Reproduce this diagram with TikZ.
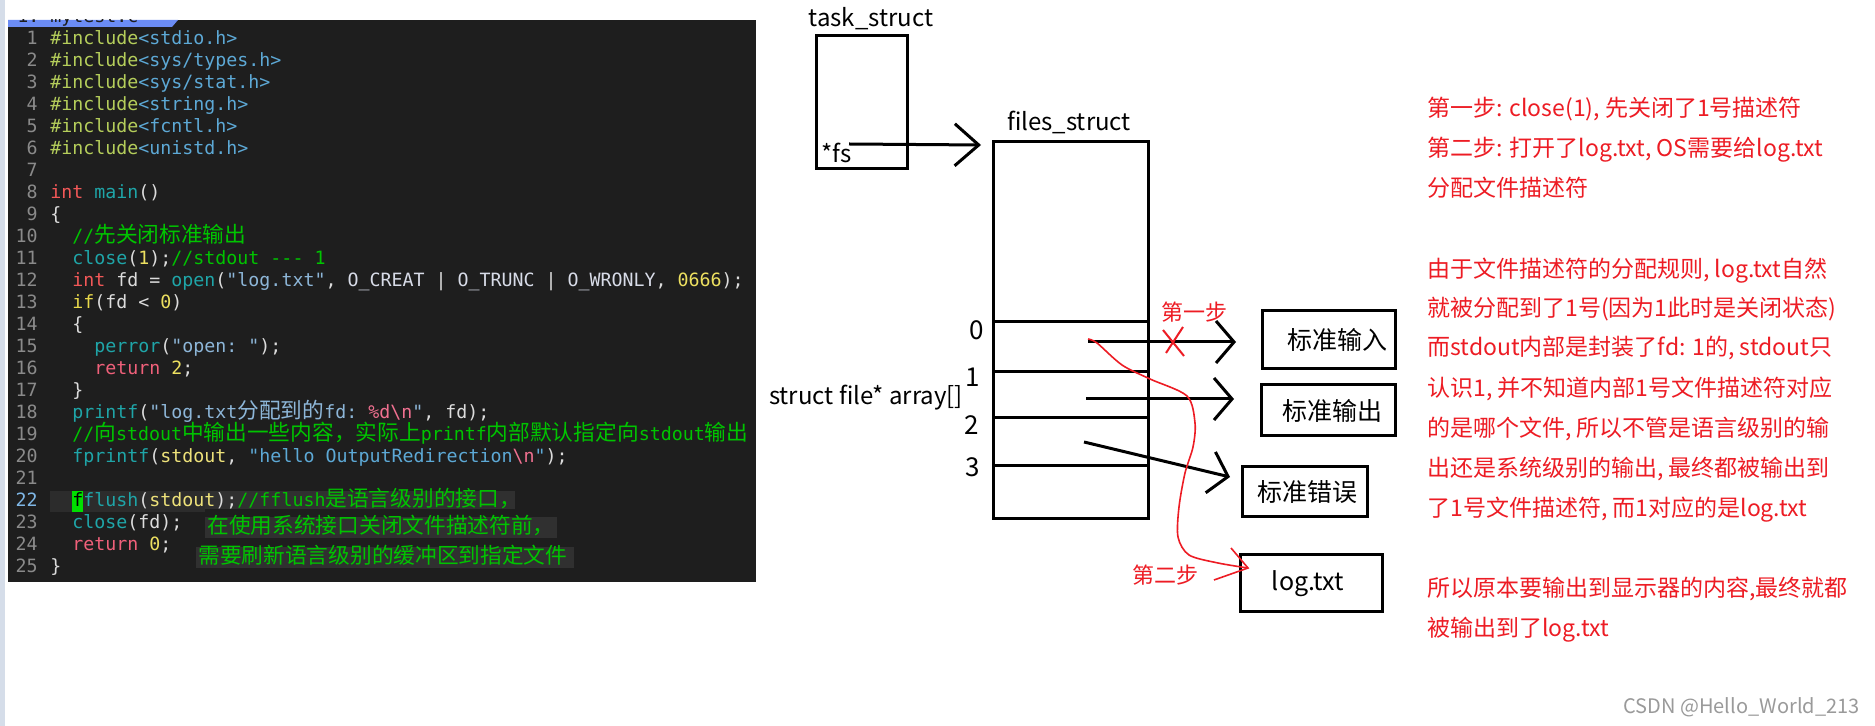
\documentclass[tikz,border=0pt]{standalone}
\usepackage{fontspec}
\setmonofont{DejaVu Sans Mono}
\newfontfamily\cjk{Noto Sans CJK SC}
\usetikzlibrary{arrows.meta}
\definecolor{panel}{HTML}{1E1E1E}
\definecolor{stripc}{HTML}{D5DDE9}
\definecolor{tabc}{HTML}{6B8CF5}
\definecolor{lnum}{HTML}{8A8A8A}
\definecolor{lnumcur}{HTML}{7FB7E6}
\definecolor{cinc}{HTML}{B5CE5B}
\definecolor{chdr}{HTML}{5DA9D6}
\definecolor{ckw}{HTML}{F25858}
\definecolor{cret}{HTML}{F0607A}
\definecolor{cfun}{HTML}{1FA5A8}
\definecolor{cnum}{HTML}{EDE060}
\definecolor{cif}{HTML}{E8D84A}
\definecolor{ccom}{HTML}{00C400}
\definecolor{cstr}{HTML}{8DB6D8}
\definecolor{cconst}{HTML}{D8DCE8}
\definecolor{cesc}{HTML}{F07090}
\definecolor{cw}{HTML}{DCDCDC}
\definecolor{cstd}{HTML}{EEE27A}
\definecolor{curbg}{HTML}{2C2C2C}
\definecolor{combg}{HTML}{303030}
\definecolor{cursor}{HTML}{00E000}
\definecolor{redc}{RGB}{237,28,36}
\definecolor{wm}{HTML}{9A9A9A}
\newcommand\cjkc[1]{{\fontsize{10.85}{11}\cjk #1}}
\tikzset{
  x=0.5pt, y=-0.5pt,
  code/.style={anchor=base west, inner sep=0pt, font=\fontsize{9.14}{11}\ttfamily, text=cw},
  lno/.style={anchor=base east, inner sep=0pt, font=\fontsize{9.14}{11}\ttfamily, text=lnum},
  lbl/.style={inner sep=0pt, font=\fontsize{12}{14}\cjk},
  numlbl/.style={inner sep=0pt, font=\fontsize{13}{15}\cjk},
  boxlbl/.style={draw, line width=1.5pt, inner sep=0pt, font=\fontsize{12.5}{14}\cjk},
  rtxt/.style={anchor=base west, inner sep=0pt, font=\fontsize{11.5}{14}\cjk, text=redc},
  blk/.style={line width=1.5pt, black},
  barb/.style={-{Straight Barb[length=9pt,width=21pt,line width=1.5pt]}},
  fsbarb/.style={-{Straight Barb[length=12pt,width=21pt,line width=1.5pt]}},
}
\begin{document}
\begin{tikzpicture}
\useasboundingbox (0,0) rectangle (1875,726);
\fill[white] (0,0) rectangle (1875,726);
% editor panel
\fill[stripc] (0,0) rectangle (5,726);
\fill[panel] (8,20) rectangle (756,582);
\fill[tabc] (8,20) -- (178,20) -- (172,27) -- (8,27) -- cycle;
\begin{scope}
  \clip (8,20) rectangle (178,27);
  \node[code, text=panel] (tab) at (17,23) {1: mytest.c};
\end{scope}
% current line highlight
\fill[curbg] (50,491) rectangle (205,512);
\fill[combg] (205,491) rectangle (515,509);
\fill[cursor] (72,491) rectangle (83,512);
% comment boxes
\fill[combg] (205,517) rectangle (557,538);
\fill[combg] (196,547) rectangle (574,568);
% line numbers
\foreach \n in {1,...,21,23,24,25} {
  \node[lno] (ln\n) at (38,{45+22*(\n-1)}) {\n};
}
\node[lno, text=lnumcur] (ln22) at (38,507) {22};
% code
\node[code] (c1) at (50,45) {\textcolor{cinc}{\#include}\textcolor{chdr}{<stdio.h>}};
\node[code] (c2) at (50,67) {\textcolor{cinc}{\#include}\textcolor{chdr}{<sys/types.h>}};
\node[code] (c3) at (50,89) {\textcolor{cinc}{\#include}\textcolor{chdr}{<sys/stat.h>}};
\node[code] (c4) at (50,111) {\textcolor{cinc}{\#include}\textcolor{chdr}{<string.h>}};
\node[code] (c5) at (50,133) {\textcolor{cinc}{\#include}\textcolor{chdr}{<fcntl.h>}};
\node[code] (c6) at (50,155) {\textcolor{cinc}{\#include}\textcolor{chdr}{<unistd.h>}};
\node[code] (c8) at (50,199) {\textcolor{ckw}{int} \textcolor{cfun}{main}()};
\node[code] (c9) at (50,221) {\{};
\node[code] (c10) at (72,243) {\textcolor{ccom}{//\cjkc{先关闭标准输出}}};
\node[code] (c11) at (72,265) {\textcolor{cfun}{close}(\textcolor{cnum}{1});\textcolor{ccom}{//stdout --- 1}};
\node[code] (c12) at (72,287) {\textcolor{ckw}{int} fd = \textcolor{cfun}{open}(\textcolor{cstr}{"log.txt"}, \textcolor{cconst}{O\_CREAT} | \textcolor{cconst}{O\_TRUNC} | \textcolor{cconst}{O\_WRONLY}, \textcolor{cnum}{0666});};
\node[code] (c13) at (72,309) {\textcolor{cif}{if}(fd < \textcolor{cnum}{0})};
\node[code] (c14) at (72,331) {\{};
\node[code] (c15) at (94,353) {\textcolor{cfun}{perror}(\textcolor{cstr}{"open: "});};
\node[code] (c16) at (94,375) {\textcolor{cret}{return} \textcolor{cnum}{2};};
\node[code] (c17) at (72,397) {\}};
\node[code] (c18) at (72,419) {\textcolor{cfun}{printf}(\textcolor{cstr}{"log.txt\cjkc{分配到的}fd: }\textcolor{cesc}{\%d\textbackslash n}\textcolor{cstr}{"}, fd);};
\node[code] (c19) at (72,441) {\textcolor{ccom}{//\cjkc{向}stdout\cjkc{中输出一些内容，实际上}printf\cjkc{内部默认指定向}stdout\cjkc{输出}}};
\node[code] (c20) at (72,463) {\textcolor{cfun}{fprintf}(\textcolor{cstd}{stdout}, \textcolor{chdr}{"hello OutputRedirection}\textcolor{cesc}{\textbackslash n}\textcolor{chdr}{"});};
\node[code] (c22) at (72,507) {\textcolor{black}{f}\textcolor{cfun}{flush}(\textcolor{cstd}{stdout});\textcolor{ccom}{//fflush\cjkc{是语言级别的接口，}}};
\node[code] (c23) at (72,529) {\textcolor{cfun}{close}(fd);};
\node[code] (c24) at (72,551) {\textcolor{cret}{return} \textcolor{cnum}{0};};
\node[code] (c25) at (50,573) {\}};
\node[code, text=ccom] (k23) at (207,534) {\cjkc{在使用系统接口关闭文件描述符前，}};
\node[code, text=ccom] (k24) at (198,564) {\cjkc{需要刷新语言级别的缓冲区到指定文件}};
% diagram
\node[lbl] (tasklbl) at (871,19) {task\_struct};
\draw[blk] (816,36) rectangle (907,169);
\node[lbl, anchor=west] (fs) at (821,153) {*fs};
\node[lbl] (fileslbl) at (1069,122) {files\_struct};
\draw[blk] (993,142) rectangle (1148,519);
\foreach \yy in {322,372,418,466} { \draw[blk] (993,\yy) -- (1148,\yy); }
\node[numlbl] (n0) at (977,330) {0};
\node[numlbl] (n1) at (973,377) {1};
\node[numlbl] (n2) at (972,425) {2};
\node[numlbl] (n3) at (973,467) {3};
\node[lbl] (arr) at (866,398) {struct file* array[]};
\coordinate (fsS) at (849,144);
\coordinate (fsE) at (981,145);
\draw[blk, fsbarb] (fsS) -- (fsE);
\node[boxlbl, minimum width=66.5pt, minimum height=29pt] (stdin) at (1328.5,340) {\hspace*{8.5pt}标准输入};
\node[boxlbl, minimum width=67pt, minimum height=25.5pt] (stdout) at (1328,410.5) {\hspace*{4pt}标准输出};
\node[boxlbl, minimum width=62.75pt, minimum height=25pt] (stderr) at (1304.75,492) {\hspace*{3pt}标准错误};
\node[boxlbl, minimum width=71pt, minimum height=28.5pt] (logf) at (1311,583.5) {\hspace*{-3pt}log.txt};
\coordinate (s0) at (1088,342);
\coordinate (e0) at (1236,342);
\coordinate (s1) at (1086,399);
\coordinate (e1) at (1234,399);
\coordinate (s2) at (1084,442);
\coordinate (e2) at (1230,477);
\draw[blk, barb] (s0) -- (e0);
\draw[blk, barb] (s1) -- (e1);
\draw[blk, barb] (s2) -- (e2);
% red annotations
\node[lbl, text=redc, font=\fontsize{11}{13}\cjk] (step1) at (1194,312) {第一步};
\coordinate (xa1) at (1163,330); \coordinate (xa2) at (1184,356);
\coordinate (xb1) at (1183,327); \coordinate (xb2) at (1166,353);
\draw[redc, line width=1pt] (xa1) -- (xa2);
\draw[redc, line width=1pt] (xb1) -- (xb2);
\coordinate (rS) at (1088,339);
\coordinate (rE) at (1248,568);
\draw[redc, line width=0.8pt] plot[smooth, tension=0.5] coordinates {(1088,339) (1097,343) (1122,365) (1150,379) (1187,396) (1195,423) (1193,447) (1185,473) (1179,507) (1178,537) (1189,555) (1218,563) (1248,568)};
\coordinate (rA1) at (1231,548);
\coordinate (rA2) at (1214,580);
\draw[redc, line width=0.8pt] (rA1) -- (rE) -- (rA2);
\node[lbl, text=redc, font=\fontsize{11}{13}\cjk] (step2) at (1165,575) {第二步};
% right text
\node[rtxt] (t1) at (1427,117) {第一步: close(1), 先关闭了1号描述符};
\node[rtxt] (t2) at (1427,157) {第二步: 打开了log.txt, OS需要给log.txt};
\node[rtxt] (t3) at (1427,197) {分配文件描述符};
\node[rtxt] (t4) at (1427,278) {由于文件描述符的分配规则, log.txt自然};
\node[rtxt] (t5) at (1427,317) {就被分配到了1号(因为1此时是关闭状态)};
\node[rtxt] (t6) at (1427,356) {而stdout内部是封装了fd: 1的, stdout只};
\node[rtxt] (t7) at (1427,397) {认识1, 并不知道内部1号文件描述符对应};
\node[rtxt] (t8) at (1427,437) {的是哪个文件, 所以不管是语言级别的输};
\node[rtxt] (t9) at (1427,477) {出还是系统级别的输出, 最终都被输出到};
\node[rtxt] (t10) at (1427,517) {了1号文件描述符, 而1对应的是log.txt};
\node[rtxt] (t11) at (1427,597) {所以原本要输出到显示器的内容,最终就都};
\node[rtxt] (t12) at (1427,637) {被输出到了log.txt};
\node[inner sep=0pt, anchor=east, font=\fontsize{10}{12}\cjk, text=wm] (wmk) at (1860,707) {CSDN @Hello\_World\_213};
\end{tikzpicture}
\end{document}
